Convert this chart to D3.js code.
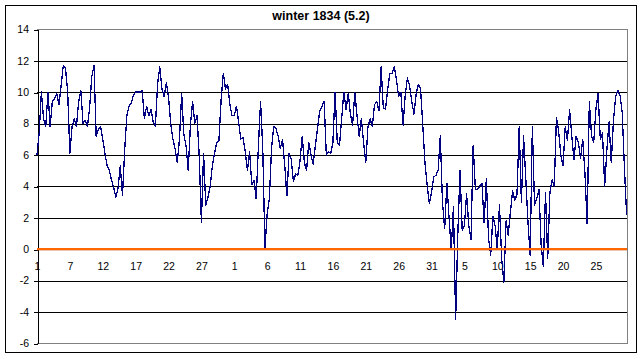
<!DOCTYPE html>
<html><head><meta charset="utf-8">
<script src="https://cdn.jsdelivr.net/npm/d3@7"></script>
<style>
body{margin:0;background:#fff}
svg{display:block}
text{font-family:"Liberation Sans",Arial,sans-serif;fill:#000}
</style>
</head><body>
<svg id="chart" width="643" height="359"></svg>
<script>
// ---- data ----
const chartTitle = "winter 1834 (5.2)";
const temps = [
 6.0,7.4,10.0,8.3,7.8,10.0,7.8,9.4,9.6,9.9,9.2,10.4,11.7,11.5,10.0,6.1,7.8,8.3,7.8,9.4,
 10.1,8.0,8.2,7.8,9.0,11.0,11.7,7.2,7.6,7.8,7.0,6.1,5.3,5.0,4.4,3.9,3.3,3.9,5.3,3.4,
 6.3,8.5,9.1,9.3,9.8,10.0,10.0,10.0,10.1,8.3,9.1,8.5,8.9,8.1,7.8,10.5,11.6,10.2,9.7,10.6,
 9.7,8.0,7.0,6.4,5.5,7.0,9.9,7.3,6.6,5.0,7.9,9.4,8.0,8.5,6.0,1.7,6.1,2.8,3.3,4.0,
 5.3,6.1,6.8,6.9,9.5,11.2,10.2,10.5,9.2,8.5,8.5,9.1,8.1,7.0,7.1,6.2,5.0,6.2,4.1,4.4,
 3.2,6.5,9.4,6.4,0.1,2.2,3.2,6.4,7.8,7.7,7.2,6.4,7.0,5.4,3.4,6.1,5.7,4.3,4.8,4.7,
 5.6,7.2,5.5,5.0,6.8,6.0,5.4,6.6,7.7,8.8,9.1,9.4,6.0,6.2,6.1,6.8,10.0,6.8,6.6,8.3,
 10.0,8.9,9.9,8.6,7.9,10.0,8.5,7.2,8.3,6.8,5.5,7.8,8.3,7.8,9.2,9.4,8.8,11.6,9.0,8.9,
 10.2,11.2,11.2,11.6,10.8,9.7,10.0,7.9,9.8,10.9,10.4,9.4,8.6,9.9,10.5,10.2,7.9,5.5,4.1,2.9,
 3.6,4.6,4.7,5.0,7.2,3.0,1.3,4.2,2.0,0.0,2.7,-4.5,1.0,5.0,1.2,1.5,3.5,1.5,0.6,6.6,
 3.8,3.8,4.0,4.2,1.7,4.5,0.7,-0.4,2.1,1.5,0.0,2.8,-0.6,-2.1,1.8,0.9,2.4,3.7,3.1,3.5,
 7.8,3.0,7.2,4.5,1.7,-0.4,7.8,2.8,3.2,3.8,0.3,-1.1,3.6,-0.6,3.6,4.4,4.0,8.4,7.5,6.0,
 5.3,7.8,6.9,8.9,7.2,5.7,7.2,6.8,5.8,7.0,4.8,1.6,9.4,7.2,6.8,8.9,9.9,7.0,7.4,4.0,
 6.3,8.1,5.5,8.2,9.7,10.1,9.8,8.7,5.2,2.2
];
const zeroLine = [0, 0];
const tickLabels = ["1","7","12","17","22","27","1","6","11","16","21","26","31","5","10","15","20","25"];
const labelInterval = 15;
const yTicks = [-6,-4,-2,0,2,4,6,8,10,12,14];

// ---- layout ----
const W = 643, H = 359;
const plot = {left: 37, right: 627, top: 29.3, bottom: 343.3};
const svg = d3.select("#chart");

svg.append("rect").attr("x",0).attr("y",0).attr("width",W).attr("height",H).attr("fill","#fff");
svg.append("rect").attr("x",5.5).attr("y",5.5).attr("width",631).attr("height",347)
   .attr("fill","none").attr("stroke","#000").attr("stroke-width",1);

const x = d3.scaleLinear().domain([0, temps.length - 1]).range([plot.left, plot.right - 0.4]);
const y = d3.scaleLinear().domain([yTicks[0], yTicks[yTicks.length-1]]).range([plot.bottom, plot.top]);

// gridlines
svg.append("g").selectAll("line")
  .data(yTicks.filter(v => v !== yTicks[0] && v !== yTicks[yTicks.length-1]))
  .join("line")
  .attr("x1", plot.left).attr("x2", plot.right)
  .attr("y1", d => Math.round(y(d)) + 0.5).attr("y2", d => Math.round(y(d)) + 0.5)
  .attr("stroke", "#000").attr("stroke-width", 1).attr("shape-rendering","crispEdges");

// plot-area border (grey) top, right, bottom
const yt = Math.round(y(yTicks[yTicks.length-1])) + 0.5, yb = Math.round(y(yTicks[0])) + 0.5;
svg.append("path")
  .attr("d", `M${plot.left},${yt}H${plot.right + 0.5}V${yb}H${plot.left}`)
  .attr("fill","none").attr("stroke","#808080").attr("stroke-width",1).attr("shape-rendering","crispEdges");

// y axis
const yAxis = svg.append("g").attr("transform", `translate(${plot.left + 0.5},0)`)
  .call(d3.axisLeft(y).tickValues(yTicks).tickSize(4).tickSizeOuter(0).tickPadding(4.5).tickFormat(d3.format("d")));
yAxis.select(".domain").attr("stroke","#000").attr("shape-rendering","crispEdges");
yAxis.selectAll(".tick line").attr("stroke","#000").attr("shape-rendering","crispEdges")
  .attr("transform", "translate(0,0.5)");
yAxis.selectAll("text").style("font-family","'Liberation Sans',Arial,sans-serif").style("font-size","10.5px")
  .attr("fill","#000").text(d => d < 0 ? "-" + Math.abs(d) : d);

// x axis (category labels)
const tickIdx = tickLabels.map((_, i) => i * labelInterval);
const xAxis = svg.append("g").attr("transform", `translate(0,${y(0)})`)
  .call(d3.axisBottom(x).tickValues(tickIdx).tickSize(0).tickPadding(13.5)
        .tickFormat((d, i) => tickLabels[i]));
xAxis.select(".domain").attr("stroke","#000");
xAxis.selectAll("text").style("font-family","'Liberation Sans',Arial,sans-serif").style("font-size","10.5px").attr("fill","#000");

// temperature line
const line = d3.line().x((d, i) => x(i)).y(d => y(d));
svg.append("path").datum(temps).attr("d", line)
  .attr("fill","none").attr("stroke","#000080").attr("stroke-width",1.3)
  .attr("stroke-linejoin","round").attr("shape-rendering","crispEdges");

// zero line (orange series)
const zx = d3.scaleLinear().domain([0, zeroLine.length - 1]).range([plot.left, plot.right]);
svg.append("path").datum(zeroLine)
  .attr("d", d3.line().x((d, i) => zx(i)).y(d => y(d)))
  .attr("fill","none").attr("stroke","#FF6600").attr("stroke-width",2.2);

// title
svg.append("text").attr("x", 321).attr("y", 20).attr("text-anchor","middle")
  .style("font-size","12.5px").style("font-weight","bold").text(chartTitle);
</script>
</body></html>
